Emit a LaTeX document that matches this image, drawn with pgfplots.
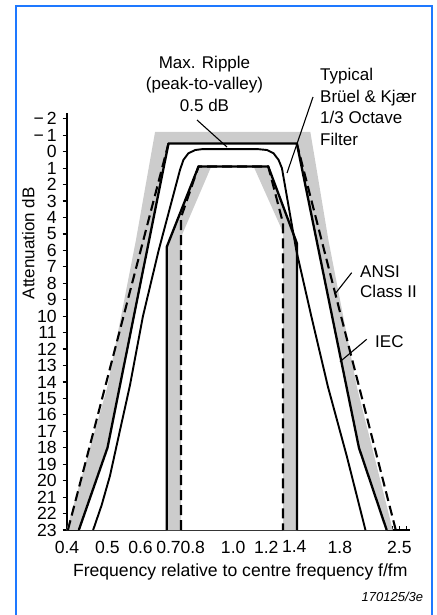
\documentclass[border=0pt]{standalone}
\usepackage{pgfplots}
\pgfplotsset{compat=1.18}
\usepackage{fontspec}
\setmainfont{Liberation Sans}
\definecolor{tolgrey}{RGB}{204,204,204}
\definecolor{frameblue}{RGB}{30,120,255}
\begin{document}
\fontsize{17bp}{21.7bp}\selectfont
\begin{tikzpicture}[x=1bp,y=1bp]
\useasboundingbox (0,0) rectangle (437,-615);
\draw[frameblue, line width=2bp] (16,-640) -- (16,-6) -- (432,-6) -- (432,-640);
\begin{axis}[
  at={(67bp,-530bp)}, anchor=south west,
  scale only axis, width=343bp, height=417bp,
  xmode=log, xmin=0.4, xmax=2.65, ymin=-2.35, ymax=23, y dir=reverse,
  axis x line*=bottom, axis y line*=left,
  xtick={0.4,0.5,0.6,0.7,0.8,1.0,1.2,1.4,1.8,2.5},
  xticklabels={0.4,0.5,0.6,0.7,0.8,1.0,1.2,1.4,1.8,2.5},
  minor xtick={0.9,1.1,1.3,1.5,1.6,1.7,1.9,2.0,2.1,2.2,2.3,2.4,2.6},
  ytick={-2,-1,0,1,2,3,4,5,6,7,8,9,10,11,12,13,14,15,16,17,18,19,20,21,22,23},
  yticklabels={−\,2,−\,1,0,1,2,3,4,5,6,7,8,9,10,11,12,13,14,15,16,17,18,19,20,21,22,23},
  xtick align=inside, ytick align=outside,
  major tick length=4.5bp, minor tick length=4.5bp,
  tick style={black, line width=1.2bp},
  axis line style={black, line width=1.5bp},
  tick label style={font=\fontsize{17.6bp}{20bp}\selectfont},
  x tick label style={yshift=-5bp},
  no markers,
  clip=false,
]
% grey tolerance band (outer)
\addplot[fill=tolgrey, draw=none] coordinates {(0.399,23) (0.499,14.36) (0.585,5.37) (0.650,-1.2) (1.53,-1.2) (1.69,5.37) (1.98,14.36) (2.41,23)};
% white interior
\addplot[fill=white, draw=none] coordinates {(0.427,23) (0.5,18) (0.70,-0.5) (1.42,-0.5) (2.0,18) (2.33,23)};
% grey inner bands
\addplot[fill=tolgrey, draw=none] coordinates {(0.693,23) (0.693,5.8) (0.826,0.9) (0.886,0.9) (0.750,5.2) (0.750,23)};
\addplot[fill=tolgrey, draw=none] coordinates {(1.422,23) (1.422,5.6) (1.213,0.9) (1.119,0.9) (1.316,4.9) (1.316,23)};
% outer solid limit
\addplot[black, line width=2.3bp, line join=round] coordinates {(0.427,23) (0.5,18) (0.70,-0.5) (1.42,-0.5) (2.0,18) (2.33,23)};
% outer dashed limits
\addplot[black, line width=2.1bp, dash pattern=on 10bp off 5bp] coordinates {(0.402,23) (0.70,-0.5)};
\addplot[black, line width=2.1bp, dash pattern=on 10bp off 5bp] coordinates {(2.45,23) (1.42,-0.5)};
% inner solid limit
\addplot[black, line width=2.3bp, line join=round] coordinates {(0.693,23) (0.693,5.8) (0.826,0.9) (1.213,0.9) (1.422,5.6) (1.422,23)};
% inner dashed limit
\addplot[black, line width=2.1bp, dash pattern=on 10bp off 5bp] coordinates {(0.750,23) (0.750,4.0) (0.826,0.9) (1.213,0.9) (1.316,4.35) (1.316,23)};
% typical filter response
\addplot[black, line width=1.9bp, line join=round] coordinates {(0.462,23) (0.484,21.5) (0.507,19.7) (0.535,17.0) (0.566,14.2) (0.608,10) (0.663,6.0) (0.746,1.1) (0.760,0.5) (0.781,0.1) (0.811,-0.1) (0.841,-0.15) (1.150,-0.15) (1.205,-0.1) (1.249,0.1) (1.284,0.5) (1.308,1.0) (1.416,6.0) (1.538,10) (1.686,14.3) (1.870,18.5) (2.073,23)};
\end{axis}
% pointers
\draw[line width=1.1bp] (197,-120) -- (227,-147);
\draw[line width=1.1bp] (313,-97) -- (287,-173);
\draw[line width=1.1bp] (351.7,-272.7) -- (336,-292.7);
\draw[line width=1.1bp] (366.7,-339.3) -- (340,-361.7);
% texts
\node[anchor=base, inner sep=0] at (204.5,-68.2) {Max. Ripple};
\node[anchor=base, inner sep=0] at (204.5,-89.9) {(peak-to-valley)};
\node[anchor=base, inner sep=0] at (204.5,-111.6) {0.5 dB};
\node[anchor=base west, inner sep=0] at (320,-80.5) {Typical};
\node[anchor=base west, inner sep=0] at (320,-102.2) {Brüel \& Kjær};
\node[anchor=base west, inner sep=0] at (320,-123.9) {1/3 Octave};
\node[anchor=base west, inner sep=0] at (320,-145.6) {Filter};
\node[anchor=base west, inner sep=0] at (360,-277.3) {ANSI};
\node[anchor=base west, inner sep=0] at (360,-297.3) {Class II};
\node[anchor=base west, inner sep=0] at (375,-347.3) {IEC};
\node[anchor=base, inner sep=0, font=\fontsize{17.6bp}{20bp}\selectfont] at (240.3,-576) {Frequency relative to centre frequency f/fm};
\node[rotate=90, anchor=center, inner sep=0] at (28.3,-243.3) {Attenuation dB};
\node[anchor=base east, inner sep=0, font=\fontsize{13bp}{15bp}\selectfont\itshape] at (423.3,-601.3) {170125/3e};
\end{tikzpicture}
\end{document}
